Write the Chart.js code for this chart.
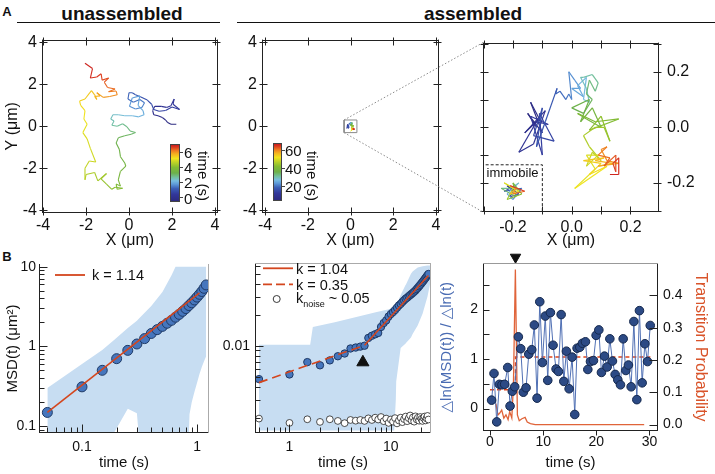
<!DOCTYPE html>
<html lang="en">
<head>
<meta charset="UTF-8">
<title>Trajectories and MSD</title>
<script src="https://cdn.jsdelivr.net/npm/chart.js"></script>
<style>
  body { margin: 0; width: 715px; height: 474px; position: relative; overflow: hidden; background: #fff;
         font-family: "Liberation Sans", Arial, sans-serif; color: #111; }
  canvas, .t, .rule, .cbar, svg, .tick { position: absolute; }
  .t { white-space: nowrap; line-height: 1; transform: translateY(-50%); }
  .c { transform: translate(-50%, -50%); }
  .rot { transform: translate(-50%, -50%) rotate(90deg); }
  .rule { height: 0; border-top: 1.6px solid #111; }
  .cbar { border: 1px solid #444; box-sizing: border-box; }
  .tick { height: 0; width: 3px; border-top: 1px solid #444; }
  .bold { font-weight: bold; }
  sub { font-size: 9px; vertical-align: -4px; }
</style>
</head>
<body>
<div class="t c bold" style="left:7px;top:11px;font-size:13px">A</div>
<div class="t c bold" style="left:122px;top:13px;font-size:19px">unassembled</div>
<div class="rule" style="left:17px;top:22px;width:203px"></div>
<div class="t c bold" style="left:473px;top:13px;font-size:19px">assembled</div>
<div class="rule" style="left:237px;top:22px;width:478px"></div>
<div class="t c bold" style="left:7px;top:256px;font-size:13px">B</div>

<canvas id="a1" width="232" height="225" style="left:0;top:25px"></canvas>
<canvas id="a2" width="220" height="225" style="left:232px;top:25px"></canvas>
<canvas id="a3" width="245" height="225" style="left:470px;top:25px"></canvas>
<canvas id="b1" width="215" height="224" style="left:0;top:250px"></canvas>
<canvas id="b2" width="225" height="224" style="left:215px;top:250px"></canvas>
<canvas id="b3" width="279" height="224" style="left:436px;top:250px"></canvas>

<!-- colour bars -->
<div class="cbar" id="cb1" style="left:170px;top:144px;width:10px;height:58px"></div>
<div class="tick" style="left:180px;top:152px"></div>
<div class="tick" style="left:180px;top:167px"></div>
<div class="tick" style="left:180px;top:182px"></div>
<div class="tick" style="left:180px;top:197px"></div>
<div class="t" style="left:184px;top:152px;font-size:15px">6</div>
<div class="t" style="left:184px;top:167px;font-size:15px">4</div>
<div class="t" style="left:184px;top:182px;font-size:15px">2</div>
<div class="t" style="left:184px;top:197.5px;font-size:15px">0</div>
<div class="t rot" style="left:203px;top:176px;font-size:15px">time (s)</div>

<div class="cbar" id="cb2" style="left:273px;top:143px;width:9px;height:58px"></div>
<div class="tick" style="left:282px;top:149.5px"></div>
<div class="tick" style="left:282px;top:167.5px"></div>
<div class="tick" style="left:282px;top:185.5px"></div>
<div class="t" style="left:285px;top:149.5px;font-size:15px">60</div>
<div class="t" style="left:285px;top:167.5px;font-size:15px">40</div>
<div class="t" style="left:285px;top:185.5px;font-size:15px">20</div>
<div class="t rot" style="left:312px;top:175.5px;font-size:15px">time (s)</div>

<div class="t c" style="left:512.5px;top:172px;font-size:13px">immobile</div>

<!-- legends -->
<svg style="left:54px;top:270px" width="32" height="10"><line x1="1" y1="5" x2="31" y2="5" stroke="#d4461e" stroke-width="1.8"/></svg>
<div class="t" style="left:92px;top:275px;font-size:14.5px">k = 1.14</div>

<svg style="left:262px;top:262px" width="34" height="44">
  <line x1="1" y1="6.3" x2="31" y2="6.3" stroke="#d4461e" stroke-width="1.8"/>
  <line x1="1" y1="22.3" x2="31" y2="22.3" stroke="#d4461e" stroke-width="1.8" stroke-dasharray="9 4"/>
  <circle cx="14.7" cy="37" r="3.5" fill="#fff" stroke="#222" stroke-width="0.9"/>
</svg>
<div class="t" style="left:296px;top:268.5px;font-size:14.5px">k = 1.04</div>
<div class="t" style="left:296px;top:284.5px;font-size:14.5px">k = 0.35</div>
<div class="t" style="left:296px;top:300px;font-size:14.5px">k<sub>noise</sub> ~ 0.05</div>

<canvas id="ov" width="715" height="474" style="left:0;top:0;pointer-events:none"></canvas>

<script>
// ---------- data ----------
// A, unassembled trajectory (um), in time order
const a1X = [2.2, 1.95, 1.8, 1.7, 1.55, 1.35, 1.15, 1.1, 1.2, 1.5, 1.75, 1.95, 2.1, 2.05, 2.35, 2.0, 1.7, 1.4, 1.15, 1.05,
  0.85, 0.55, 0.3, 0.15, 0.0, -0.05, 0.2, 0.5, 0.72, 0.6, 0.3, 0.02, 0.15, 0.5, 0.42, 0.65, 0.7, 0.45, 0.15, -0.2,
  -0.5, -0.75, -0.85, -0.7, -0.8, -0.55, -0.3, -0.1, 0.05, 0.3, 0.1, -0.2, -0.5, -0.6, -0.45, -0.4, -0.2, -0.15, -0.4, -0.5,
  -0.4, -0.6, -0.55, -0.3, -0.65, -0.8, -1.05, -1.3, -1.05, -1.45, -1.6, -2.0, -2.05, -2.05, -1.85, -1.55, -1.8, -1.95, -2.15, -1.95,
  -2.1, -2.05, -2.25, -2.3, -2.05, -1.75, -1.6, -1.5, -1.6, -1.35, -1.5, -1.2, -0.9, -0.55, -0.6, -0.95, -0.65, -1.0, -1.15, -0.95,
  -1.25, -1.3, -1.5, -1.8, -1.7, -2.05];
const a1Y = [0.1, 0.1, 0.18, 0.3, 0.42, 0.5, 0.55, 0.75, 0.95, 0.95, 0.9, 0.98, 1.3, 1.05, 0.8, 0.92, 0.75, 0.72, 0.8, 1.05,
  1.25, 1.4, 1.5, 1.6, 1.6, 1.3, 1.15, 1.28, 1.12, 0.9, 0.82, 0.95, 1.35, 1.45, 1.0, 0.75, 0.55, 0.45, 0.5, 0.5,
  0.55, 0.55, 0.35, 0.25, 0.05, 0.0, 0.12, -0.02, -0.22, -0.3, -0.38, -0.45, -0.55, -0.8, -1.1, -1.45, -1.75, -1.9, -2.15, -2.55,
  -2.85, -2.75, -3.0, -2.95, -2.9, -3.0, -2.75, -2.5, -2.25, -2.6, -2.2, -2.3, -2.55, -2.0, -1.65, -1.7, -1.05, -0.6, -0.3, 0.1,
  0.35, 0.75, 1.0, 1.2, 1.3, 1.7, 1.5, 1.28, 1.42, 1.45, 1.6, 1.38, 1.42, 1.5, 1.68, 1.65, 1.78, 1.85, 2.1, 2.3,
  2.2, 2.5, 2.35, 2.3, 2.75, 3.0];

// A, assembled trajectory (um)
const a3X = [-0.12, -0.15, -0.1, -0.14, -0.11, -0.16, -0.09, -0.13, -0.18, -0.12, -0.08, -0.14, -0.1, -0.11, -0.06, -0.13, -0.1, -0.12, -0.09, -0.05,
  -0.055, -0.04, -0.02, -0.01, 0.0, -0.01, 0.01, 0.03, 0.0, 0.04, 0.02, 0.05, 0.04, 0.06, 0.05, 0.03, 0.04, 0.07, 0.09, 0.08,
  0.06, 0.05, 0.07, 0.04, 0.0, 0.06, 0.03, 0.07, 0.1, 0.05, 0.02, 0.08, 0.16, 0.06, 0.1, 0.13, 0.11, 0.08, 0.04, 0.06,
  0.1, 0.07, 0.05, 0.09, 0.05, 0.08, 0.01, 0.12, 0.06, 0.1, 0.04, 0.11, 0.08, 0.14, 0.09, 0.16, 0.12, 0.1, 0.12, 0.09,
  0.13, 0.11, 0.15, 0.15, 0.14, 0.16, 0.16, 0.13];
const a3Y = [0.0, 0.05, -0.02, 0.09, 0.03, -0.02, 0.06, -0.06, -0.09, 0.02, 0.01, 0.04, -0.1, 0.05, -0.05, -0.03, 0.07, -0.07, 0.02, 0.14,
  0.12, 0.13, 0.1, 0.12, 0.1, 0.2, 0.17, 0.14, 0.14, 0.11, 0.15, 0.18, 0.1, 0.09, 0.14, 0.18, 0.18, 0.19, 0.16, 0.13,
  0.17, 0.12, 0.1, 0.05, 0.07, 0.1, 0.02, 0.07, 0.0, 0.03, 0.05, 0.02, 0.03, -0.01, 0.04, -0.05, 0.0, 0.0, -0.03, -0.07,
  -0.12, -0.09, -0.14, -0.1, -0.1, -0.15, -0.22, -0.14, -0.17, -0.13, -0.12, -0.11, -0.12, -0.13, -0.14, -0.13, -0.12, -0.08, -0.07, -0.1,
  -0.11, -0.14, -0.1, -0.16, -0.13, -0.11, -0.17, -0.17];
// immobile particle, same scale
const immX = [-0.2, -0.22, -0.18, -0.21, -0.19, -0.23, -0.17, -0.2, -0.22, -0.18, -0.21, -0.24, -0.19, -0.2, -0.17, -0.22, -0.2, -0.23, -0.18, -0.21, -0.19, -0.2, -0.16, -0.21];
const immY = [-0.23, -0.21, -0.24, -0.25, -0.21, -0.23, -0.22, -0.26, -0.24, -0.2, -0.22, -0.22, -0.25, -0.2, -0.24, -0.26, -0.22, -0.2, -0.23, -0.24, -0.22, -0.24, -0.23, -0.21];
const zoomHalf = 0.3;               // half width of the zoomed window
const immEdgeX = -0.1, immEdgeY = -0.135;

// B, left: MSD of the unassembled particle
const b1Time = [0.05, 0.1, 0.15, 0.2, 0.25, 0.3, 0.35, 0.4, 0.45, 0.5, 0.55, 0.6, 0.65, 0.7, 0.75, 0.8, 0.85, 0.9, 0.95, 1.0, 1.05, 1.1, 1.15, 1.2];
const b1Msd = [0.148, 0.31, 0.5, 0.7, 0.89, 1.07, 1.25, 1.45, 1.62, 1.78, 1.95, 2.12, 2.32, 2.52, 2.75, 2.98, 3.25, 3.52, 3.82, 4.15, 4.5, 4.88, 5.35, 5.9];
const b1FitT = [0.05, 1.05];
const b1FitY = [0.148, 4.7];
const b1BandT = [0.05, 0.1, 0.15, 0.19, 0.25, 0.3, 0.31, 0.4, 0.5, 0.6, 0.65, 0.7, 0.8, 0.85, 0.86, 0.9, 0.95, 1.0, 1.05, 1.1, 1.15, 1.2];
const b1BandHi = [0.3, 0.6, 0.9, 1.2, 1.7, 2.1, 2.2, 3.2, 4.8, 7.8, 10, 10, 10, 10, 10, 10, 10, 10, 10, 10, 10, 10];
const b1BandLo = [0.082, 0.082, 0.082, 0.082, 0.165, 0.145, 0.082, 0.082, 0.082, 0.082, 0.082, 0.082, 0.082, 0.082, 0.14, 0.2, 0.27, 0.35, 0.45, 0.55, 0.65, 0.75];

// B, middle: MSD of the assembled particle
const b2Time = [0.5, 1, 1.5, 2, 2.5, 3, 3.5, 4, 4.5, 5, 5.5, 6, 6.5, 7, 7.5, 8, 8.5, 9, 9.5, 10, 10.5, 11, 11.5, 12, 12.5, 13, 13.5, 14,
  14.5, 15, 15.5, 16, 16.5, 17, 17.5, 18, 18.5, 19, 19.5, 20, 20.5, 21, 21.5, 22, 22.5, 23, 23.5];
const b2Msd = [0.00474, 0.00526, 0.00693, 0.00645, 0.0072, 0.0079, 0.0084, 0.0094, 0.0096, 0.0098, 0.01, 0.0119, 0.0125, 0.0129, 0.0133, 0.0152,
  0.0166, 0.0176, 0.0192, 0.0203, 0.0212, 0.0222, 0.0234, 0.0246, 0.0255, 0.0266, 0.0276, 0.0286, 0.0293, 0.0302, 0.031, 0.0318,
  0.0326, 0.0335, 0.0344, 0.0355, 0.0366, 0.0378, 0.039, 0.0402, 0.0415, 0.0428, 0.0441, 0.0455, 0.0469, 0.0483, 0.0497];
const b2Noise = [0.00196, 0.00178, 0.00193, 0.00182, 0.00193, 0.00186, 0.00177, 0.0019, 0.00187, 0.0019, 0.00186, 0.00197, 0.0019, 0.002, 0.00192, 0.00203,
  0.00185, 0.00196, 0.00178, 0.00192, 0.00183, 0.00198, 0.00176, 0.00188, 0.002, 0.00181, 0.00194, 0.00205, 0.00185, 0.00198, 0.0021, 0.00188,
  0.00201, 0.00183, 0.00206, 0.00192, 0.002, 0.00187, 0.00203, 0.00195, 0.00186, 0.00199, 0.00205, 0.00188, 0.00197, 0.00208, 0.00192];
const b2SlowT = [0.5, 5.5], b2SlowY = [0.00438, 0.0101];
const b2FastT = [5.5, 23.5], b2FastY = [0.0101, 0.048];
const b2BandT = [0.5, 1.6, 1.7, 2.8, 7.1, 10.8, 11.2, 11.3, 12.5, 14, 14.1, 15.8, 16.4, 18.4, 20.6, 23, 25];
const b2BandHi = [0.0102, 0.0102, 0.0152, 0.0169, 0.0211, 0.0232, 0.0235, 0.0245, 0.031, 0.039, 0.0392, 0.05, 0.0525, 0.0575, 0.059, 0.06, 0.06];
const b2BandLo = [0.0015, 0.0015, 0.0015, 0.0015, 0.0015, 0.0015, 0.003, 0.0045, 0.0095, 0.0105, 0.0106, 0.012, 0.013, 0.0157, 0.0205, 0.03, 0.045];
const b2MarkT = [5.3], b2MarkY = [0.0069];

// B, right: local slope and transition probability
const b3Time = [0.3, 0.75, 1.26, 1.76, 2.25, 2.75, 3.33, 3.77, 4.2, 4.65, 5.33, 5.78, 6.27, 6.78, 7.29, 7.85, 8.34, 8.85, 9.36, 9.85,
  10.4, 10.86, 11.36, 11.86, 12.43, 12.87, 13.38, 13.88, 14.37, 14.88, 15.44, 15.94, 16.38, 16.89, 17.38, 17.95, 18.4, 18.9, 19.46, 19.96,
  20.47, 20.96, 21.53, 22.03, 22.54, 23.03, 23.54, 24.04, 24.54, 25.05, 25.55, 26.04, 26.55, 27.06, 27.62, 28.11, 28.62, 29.13, 29.63, 30.14];
const b3Slope = [0.17, 0.71, -0.27, 0.49, 0.48, 0.49, 0.83, 0.05, 0.35, 0.44, 1.45, 1.21, 0.33, 0.42, 1.1, 1.19, 1.69, 0.21, 2.16, 0.93,
  1.87, 0.57, 1.94, 1.28, 0.8, 0.75, 1.9, 0.55, 1.16, 0.4, 1.04, -0.12, 1.22, 1.24, 1.32, 1.35, 0.79, 0.95, 0.97, 1.48,
  1.59, 0.73, 1.06, 0.84, 1.41, 0.96, 0.69, 0.58, 0.48, 1.41, 0.77, 0.88, 0.44, 1.76, 0.18, 1.98, 0.52, 1.31, 0.95, 1.68];
const b3ProbT = [1.1, 1.5, 1.8, 2.2, 2.6, 3.0, 3.4, 3.7, 4.1, 4.4, 4.77, 5.15, 5.5, 6.0, 6.6, 7.0, 7.6, 8.5, 29.0];
const b3Prob = [0.065, 0.03, 0.035, 0.045, 0.02, 0.03, 0.015, 0.04, 0.02, 0.12, 0.48, 0.03, 0.012, 0.018, 0.022, 0.008, 0.003, 0.0, 0.0];
const b3MeanT = [0, 4.8, 4.8, 30.5];
const b3Mean = [0.38, 0.38, 1.04, 1.04];
const b3MarkT = [4.8], b3MarkY = [3.06];

// ---------- colour map for time ----------
const cmapStops = [
  [0.00, '#2d2a80'], [0.12, '#32379a'], [0.22, '#3a5db5'], [0.30, '#5d9ad8'], [0.36, '#78bde0'],
  [0.42, '#72c0a0'], [0.50, '#6cb04a'], [0.60, '#84bc32'], [0.68, '#b8d028'], [0.76, '#f0e41e'],
  [0.84, '#f4b020'], [0.90, '#ee7a22'], [0.96, '#dc3a20'], [1.00, '#c81e1e']
];
const hex = h => [1, 3, 5].map(i => parseInt(h.slice(i, i + 2), 16));
function colorAt(f) {
  f = Math.min(1, Math.max(0, f));
  for (let i = 1; i < cmapStops.length; i++) {
    if (f <= cmapStops[i][0]) {
      const [f0, c0] = cmapStops[i - 1], [f1, c1] = cmapStops[i];
      const u = (f - f0) / (f1 - f0), a = hex(c0), b = hex(c1);
      return 'rgb(' + a.map((v, k) => Math.round(v + (b[k] - v) * u)).join(',') + ')';
    }
  }
  return cmapStops[cmapStops.length - 1][1];
}
const grad = 'linear-gradient(to top,' + cmapStops.map(([f, c]) => c + ' ' + (f * 100) + '%').join(',') + ')';
document.getElementById('cb1').style.background = grad;
document.getElementById('cb2').style.background = grad;

// ---------- helpers ----------
Chart.defaults.font.family = "'Liberation Sans', Arial, 'DejaVu Sans', sans-serif";
Chart.defaults.color = '#111';
Chart.defaults.animation = false;
Chart.defaults.plugins.legend.display = false;
Chart.defaults.plugins.tooltip.enabled = false;

const pts = (xs, ys) => xs.map((x, i) => ({ x, y: ys[i] }));
const linTicks = step => s => {
  const t = [];
  for (let k = Math.ceil(s.min / step - 1e-9); k * step <= s.max + 1e-9; k++) t.push({ value: +(k * step).toFixed(6) });
  s.ticks = t;
};
const logTicks = s => {
  const t = [];
  for (let e = Math.floor(Math.log10(s.min)); e <= Math.ceil(Math.log10(s.max)); e++)
    for (let m = 1; m < 10; m++) {
      const v = +(m * Math.pow(10, e)).toPrecision(6);
      if (v >= s.min && v <= s.max) t.push({ value: v });
    }
  s.ticks = t;
};
const isDecade = v => Math.abs(Math.log10(v) - Math.round(Math.log10(v))) < 1e-6;
const decLabel = v => isDecade(v) ? String(v) : '';

function mkAxis(o) {
  return {
    type: o.type || 'linear', position: o.position, min: o.min, max: o.max, bounds: 'data',
    afterBuildTicks: o.build,
    afterFit: s => { if (s.isHorizontal()) s.height = o.size; else s.width = o.size; },
    grid: { display: false, drawTicks: false }, border: { display: false },
    ticks: { autoSkip: false, maxRotation: 0, minRotation: 0, padding: o.pad, color: '#111',
             font: { size: o.font }, callback: o.labels },
    title: o.title ? { display: true, text: o.title, color: o.titleColor || '#111',
             font: { size: o.titleFont || 15, lineHeight: 1.2 }, padding: o.titlePad || 0 } : { display: false }
  };
}

// frame with inward tick marks
const framePlugin = {
  id: 'frame',
  afterDatasetsDraw(chart, args, o) {
    if (!o || !o.sides) return;
    const { ctx, chartArea: a } = chart;
    const L = Math.round(a.left) + 0.5, R = Math.round(a.right) - 0.5;
    const T = Math.round(a.top) + 0.5, B = Math.round(a.bottom) - 0.5;
    ctx.save();
    ctx.lineWidth = 1;
    for (const t of o.ticks || []) {
      const sc = chart.scales[t.scale];
      ctx.strokeStyle = t.color || '#222';
      ctx.beginPath();
      for (const tk of sc.ticks) {
        const v = tk.value;
        const major = t.major ? t.major(v) : true;
        const inL = major ? t.inMajor : t.inMinor, outL = major ? (t.outMajor || 0) : 0;
        if (!inL && !outL) continue;
        const p = Math.round(sc.getPixelForValue(v)) + 0.5;
        if (t.side === 'bottom' || t.side === 'top') {
          if (p < a.left - 1 || p > a.right + 1) continue;
          if (t.side === 'bottom') { ctx.moveTo(p, B + outL); ctx.lineTo(p, B - inL); }
          else { ctx.moveTo(p, T - outL); ctx.lineTo(p, T + inL); }
        } else {
          if (p < a.top - 1 || p > a.bottom + 1) continue;
          if (t.side === 'left') { ctx.moveTo(L - outL, p); ctx.lineTo(L + inL, p); }
          else { ctx.moveTo(R + outL, p); ctx.lineTo(R - inL, p); }
        }
      }
      ctx.stroke();
    }
    const seg = { left: [L, a.top, L, a.bottom], right: [R, a.top, R, a.bottom], top: [a.left, T, a.right, T], bottom: [a.left, B, a.right, B] };
    for (const side in o.sides) {
      ctx.strokeStyle = o.sides[side];
      ctx.beginPath();
      ctx.moveTo(seg[side][0], seg[side][1]);
      ctx.lineTo(seg[side][2], seg[side][3]);
      ctx.stroke();
    }
    ctx.restore();
  }
};
Chart.register(framePlugin);

function trackDs(xs, ys, width) {
  const n = xs.length - 1;
  return { data: pts(xs, ys), showLine: true, pointRadius: 0, borderWidth: width, borderColor: colorAt(0),
           segment: { borderColor: c => colorAt(c.p0DataIndex / n) } };
}

const boxFrame = { left: '#222', right: '#222', top: '#222', bottom: '#222' };
const boxTicks = len => [
  { scale: 'x', side: 'bottom', inMajor: len, outMajor: 3 }, { scale: 'x', side: 'top', inMajor: len, outMajor: 3 },
  { scale: 'y', side: 'left', inMajor: len, outMajor: 3 }, { scale: 'y', side: 'right', inMajor: len, outMajor: 3 }];
const base = { responsive: false, devicePixelRatio: 1, animation: false };

// ---------- A: unassembled ----------
const chartA1 = new Chart(document.getElementById('a1'), {
  type: 'scatter',
  data: { datasets: [trackDs(a1X, a1Y, 1.1)] },
  options: Object.assign({}, base, {
    layout: { autoPadding: false, padding: { left: 0, top: 12, right: 14, bottom: 0 } },
    scales: {
      x: mkAxis({ position: 'bottom', min: -4.05, max: 4.14, build: linTicks(2), size: 37, pad: 3, font: 16,
                  labels: v => String(v), title: 'X (\u03bcm)', titleFont: 16 }),
      y: mkAxis({ position: 'left', min: -4.13, max: 4.13, build: linTicks(2), size: 42, pad: 5, font: 16,
                  labels: v => String(v), title: 'Y (\u03bcm)', titleFont: 16, titlePad: 3 })
    },
    plugins: { frame: { sides: boxFrame, ticks: boxTicks(5) } }
  })
});

// ---------- A: assembled, full view ----------
const zoomBox = [-zoomHalf, zoomHalf, zoomHalf, -zoomHalf, -zoomHalf];
const chartA2 = new Chart(document.getElementById('a2'), {
  type: 'scatter',
  data: { datasets: [
    trackDs(a3X, a3Y, 1),
    { data: pts(zoomBox, [-zoomHalf, -zoomHalf, zoomHalf, zoomHalf, -zoomHalf]), showLine: true, pointRadius: 0,
      borderColor: '#8a8a8a', borderWidth: 1 }
  ] },
  options: Object.assign({}, base, {
    layout: { autoPadding: false, padding: { left: 0, top: 12, right: 13, bottom: 0 } },
    scales: {
      x: mkAxis({ position: 'bottom', min: -4.14, max: 4.14, build: linTicks(2), size: 37, pad: 3, font: 16,
                  labels: v => String(v), title: 'X (\u03bcm)', titleFont: 16 }),
      y: mkAxis({ position: 'left', min: -4.12, max: 4.12, build: linTicks(2), size: 30, pad: 5, font: 16,
                  labels: v => String(v) })
    },
    plugins: { frame: { sides: boxFrame, ticks: boxTicks(5) } }
  })
});

// ---------- A: assembled, zoom ----------
const chartA3 = new Chart(document.getElementById('a3'), {
  type: 'scatter',
  data: { datasets: [
    trackDs(a3X, a3Y, 1.2),
    trackDs(immX, immY, 1.1),
    { data: pts([-zoomHalf - 0.01, immEdgeX, immEdgeX], [immEdgeY, immEdgeY, -zoomHalf - 0.01]), showLine: true,
      pointRadius: 0, borderColor: '#222', borderWidth: 1, borderDash: [3, 2] }
  ] },
  options: Object.assign({}, base, {
    layout: { autoPadding: false, padding: { left: 13, top: 13, right: 0, bottom: 0 } },
    scales: {
      x: mkAxis({ position: 'bottom', min: -0.302, max: 0.297, build: linTicks(0.1), size: 38, pad: 6, font: 16,
                  labels: v => Math.round(v * 10) % 2 === 0 ? v.toFixed(1) : '', title: 'X (\u03bcm)', titleFont: 16 }),
      y: mkAxis({ position: 'right', min: -0.305, max: 0.305, build: linTicks(0.1), size: 56, pad: 8, font: 16,
                  labels: v => Math.round(v * 10) % 2 === 0 ? v.toFixed(1) : '' })
    },
    plugins: { frame: { sides: boxFrame, ticks: boxTicks(5) } }
  })
});

// ---------- B: unassembled MSD ----------
const RED = '#d4461e', BAND = '#c7ddf2';
new Chart(document.getElementById('b1'), {
  type: 'scatter',
  data: { datasets: [
    { data: pts(b1FitT, b1FitY), showLine: true, pointRadius: 0, borderColor: RED, borderWidth: 1.6, order: 0 },
    { data: pts(b1Time, b1Msd), pointRadius: 5, backgroundColor: '#4676bd', borderColor: '#1f3a66', borderWidth: 1, order: 1 },
    { data: pts(b1BandT, b1BandLo), showLine: true, pointRadius: 0, borderWidth: 0, fill: false, order: 3 },
    { data: pts(b1BandT, b1BandHi), showLine: true, pointRadius: 0, borderWidth: 0, fill: '-1', backgroundColor: BAND, order: 2 }
  ] },
  options: Object.assign({}, base, {
    layout: { autoPadding: false, padding: { left: 0, top: 14, right: 6, bottom: 0 } },
    scales: {
      x: mkAxis({ type: 'logarithmic', position: 'bottom', min: 0.0423, max: 1.27, build: logTicks, size: 41, pad: 6, font: 14,
                  labels: decLabel, title: 'time (s)', titlePad: 2 }),
      y: mkAxis({ type: 'logarithmic', position: 'left', min: 0.0817, max: 10.8, build: logTicks, size: 39, pad: 3, font: 14,
                  labels: decLabel, title: 'MSD(t) (\u03bcm\u00b2)', titlePad: 3.5 })
    },
    plugins: { frame: { sides: { left: '#222', bottom: '#222', right: '#aaa' }, ticks: [
      { scale: 'x', side: 'bottom', major: isDecade, inMajor: 8, inMinor: 5 },
      { scale: 'y', side: 'left', major: isDecade, inMajor: 8, inMinor: 5 }] } }
  })
});

// ---------- B: assembled MSD ----------
new Chart(document.getElementById('b2'), {
  type: 'scatter',
  data: { datasets: [
    { data: pts(b2FastT, b2FastY), showLine: true, pointRadius: 0, borderColor: RED, borderWidth: 1.6, order: 0 },
    { data: pts(b2SlowT, b2SlowY), showLine: true, pointRadius: 0, borderColor: RED, borderWidth: 1.6, borderDash: [9, 5], order: 0 },
    { data: pts(b2Time, b2Msd), pointRadius: 3.7, backgroundColor: '#4676bd', borderColor: '#1f3a66', borderWidth: 1, order: 1 },
    { data: pts(b2Time, b2Noise), pointRadius: 3.4, backgroundColor: '#fff', borderColor: '#222', borderWidth: 0.8, order: 1 },
    { data: pts(b2MarkT, b2MarkY), pointStyle: 'triangle', pointRadius: 7, backgroundColor: '#111', borderColor: '#111', order: 1 },
    { data: pts(b2BandT, b2BandLo), showLine: true, pointRadius: 0, borderWidth: 0, fill: false, order: 3 },
    { data: pts(b2BandT, b2BandHi), showLine: true, pointRadius: 0, borderWidth: 0, fill: '-1', backgroundColor: BAND, order: 2 }
  ] },
  options: Object.assign({}, base, {
    layout: { autoPadding: false, padding: { left: 0, top: 9, right: 9, bottom: 0 } },
    scales: {
      x: mkAxis({ type: 'logarithmic', position: 'bottom', min: 0.457, max: 24.9, build: logTicks, size: 41, pad: 6, font: 14,
                  labels: decLabel, title: 'time (s)', titlePad: 2 }),
      y: mkAxis({ type: 'logarithmic', position: 'left', min: 0.00142, max: 0.063, build: logTicks, size: 40, pad: 5, font: 14,
                  labels: decLabel })
    },
    plugins: { frame: { sides: { left: '#222', bottom: '#222', right: '#aaa', top: '#aaa' }, ticks: [
      { scale: 'x', side: 'bottom', major: isDecade, inMajor: 8, inMinor: 5 },
      { scale: 'y', side: 'left', major: isDecade, inMajor: 8, inMinor: 5 }] } }
  })
});

// ---------- B: slope and transition probability ----------
new Chart(document.getElementById('b3'), {
  type: 'scatter',
  data: { datasets: [
    { data: pts(b3Time, b3Slope), showLine: true, borderColor: '#5070b4', borderWidth: 1, pointRadius: 4.3,
      pointBackgroundColor: '#2c4a85', pointBorderColor: '#14284d', pointBorderWidth: 1, order: 0 },
    { data: pts(b3ProbT, b3Prob), yAxisID: 'y2', showLine: true, pointRadius: 0, borderColor: '#e0643a', borderWidth: 1.3, order: 2 },
    { data: pts(b3MeanT, b3Mean), showLine: true, pointRadius: 0, borderColor: '#e0441c', borderWidth: 1.5, borderDash: [4, 3], order: 1 },
    { data: pts(b3MarkT, b3MarkY), pointStyle: 'triangle', pointRotation: 180, pointRadius: 6, backgroundColor: '#111',
      borderColor: '#111', clip: false, order: 0 }
  ] },
  options: Object.assign({}, base, {
    layout: { autoPadding: false, padding: { left: 0, top: 7, right: 0, bottom: 0 } },
    scales: {
      x: mkAxis({ position: 'bottom', min: -1.32, max: 31.6, build: linTicks(10), size: 43, pad: 3, font: 14,
                  labels: v => String(v), title: 'time (s)', titlePad: 2 }),
      y: mkAxis({ position: 'left', min: -0.454, max: 2.935, build: linTicks(0.5), size: 47, pad: 5, font: 14,
                  labels: v => Number.isInteger(v) ? String(v) : '',
                  title: '\u25b3ln(MSD(t)) / \u25b3ln(t)', titleColor: '#4a6cb3', titlePad: 1.5 }),
      y2: mkAxis({ position: 'right', min: -0.02, max: 0.499, build: linTicks(0.1), size: 57, pad: 5, font: 14,
                  labels: v => v.toFixed(1), title: 'Transition Probability', titleColor: '#d9542a', titleFont: 16, titlePad: 5.4 })
    },
    plugins: { frame: { sides: { left: '#222', bottom: '#222', right: '#222', top: '#999' }, ticks: [
      { scale: 'x', side: 'bottom', inMajor: 0, outMajor: 5 },
      { scale: 'y', side: 'left', inMajor: 6 },
      { scale: 'y2', side: 'right', inMajor: 8 }] } }
  })
});

// ---------- dotted lines from the zoom box to the zoomed panel ----------
(function connectZoom() {
  const ctx = document.getElementById('ov').getContext('2d');
  const c2 = chartA2.canvas, c3 = chartA3.canvas, ca = chartA3.chartArea;
  const x0 = c2.offsetLeft + chartA2.scales.x.getPixelForValue(-zoomHalf);
  const yT = c2.offsetTop + chartA2.scales.y.getPixelForValue(zoomHalf);
  const yB = c2.offsetTop + chartA2.scales.y.getPixelForValue(-zoomHalf);
  const x1 = c3.offsetLeft + ca.left;
  ctx.setLineDash([1.5, 2]);
  ctx.strokeStyle = '#8a8a8a';
  ctx.lineWidth = 1;
  ctx.beginPath();
  ctx.moveTo(x0, yT); ctx.lineTo(x1, c3.offsetTop + ca.top);
  ctx.moveTo(x0, yB); ctx.lineTo(x1, c3.offsetTop + ca.bottom);
  ctx.stroke();
})();
</script>
</body>
</html>
